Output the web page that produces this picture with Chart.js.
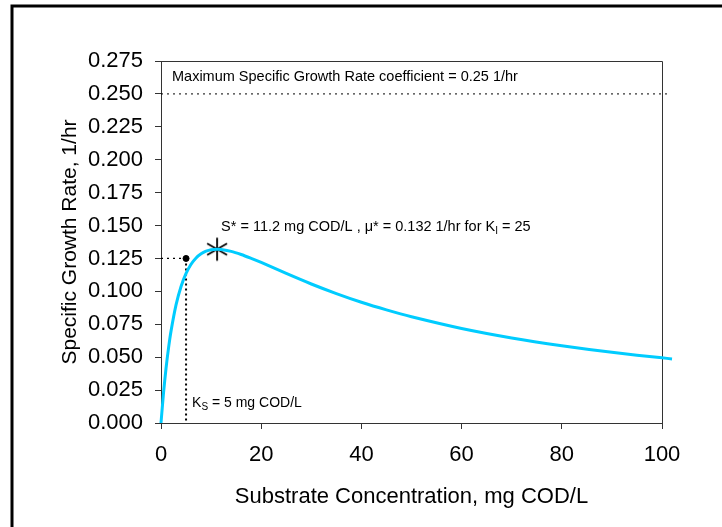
<!DOCTYPE html>
<html>
<head>
<meta charset="utf-8">
<script src="https://cdn.jsdelivr.net/npm/chart.js@4"></script>
<style>
  html, body { margin: 0; padding: 0; background: #fff; }
  canvas { display: block; }
</style>
</head>
<body>
<canvas id="myChart" width="722" height="527"></canvas>
<script>
// Haldane growth curve, read point by point
var substrate  = [0, 0.5, 1, 1.5, 2, 3, 4, 5, 6, 7, 8, 9, 10, 11.2, 12, 14, 16, 18, 20, 25, 30, 35, 40, 45, 50, 60, 70, 80, 90, 100, 102];
var growthRate = [0, 0.0227, 0.0414, 0.0569, 0.0698, 0.0897, 0.1037, 0.1136, 0.1206, 0.1254, 0.1285, 0.1305, 0.1316, 0.1320, 0.1318, 0.1304, 0.1280, 0.1251, 0.1220, 0.1136, 0.1056, 0.0983, 0.0917, 0.0859, 0.0807, 0.0718, 0.0646, 0.0587, 0.0537, 0.0495, 0.0487];

// kinetic constants shown on the plot
var muMax = 0.25;
var ksValue = 5;
var ksRate = 0.125;
var kiValue = 25;
var sStar = 11.2;
var muStar = 0.132;

var xTicks = [0, 20, 40, 60, 80, 100];
var yTicks = [0, 0.025, 0.05, 0.075, 0.1, 0.125, 0.15, 0.175, 0.2, 0.225, 0.25, 0.275];

var FONT = '"Liberation Sans", Arial, sans-serif';

var curve = substrate.map(function (s, i) { return { x: s, y: growthRate[i] }; });

// six-spoke asterisk for the optimum point
function asterisk(r) {
  var c = document.createElement('canvas');
  var size = 2 * Math.ceil(r + 2);
  c.width = size; c.height = size;
  var g = c.getContext('2d');
  var m = size / 2;
  g.strokeStyle = '#000';
  g.lineWidth = 1.8;
  g.beginPath();
  for (var k = 0; k < 3; k++) {
    var a = Math.PI / 2 + k * Math.PI / 3;
    g.moveTo(m + r * Math.cos(a), m - r * Math.sin(a));
    g.lineTo(m - r * Math.cos(a), m + r * Math.sin(a));
  }
  g.stroke();
  return c;
}

// text with subscript parts: [[text, isSub], ...]
function drawParts(ctx, parts, x, y, size) {
  ctx.textBaseline = 'middle';
  ctx.textAlign = 'left';
  parts.forEach(function (p) {
    if (p[1]) {
      ctx.font = Math.round(size * 0.7) + 'px ' + FONT;
      ctx.fillText(p[0], x, y + size * 0.3);
    } else {
      ctx.font = size + 'px ' + FONT;
      ctx.fillText(p[0], x, y);
    }
    x += ctx.measureText(p[0]).width;
  });
}

var decorations = {
  id: 'decorations',
  beforeDraw: function (chart) {
    var ctx = chart.ctx;
    ctx.save();
    ctx.fillStyle = '#fff';
    ctx.fillRect(0, 0, chart.width, chart.height);
    ctx.strokeStyle = '#000';
    ctx.lineWidth = 3;
    ctx.strokeRect(12, 6, chart.width + 40, chart.height + 40);
    ctx.restore();
  },
  beforeDatasetsDraw: function (chart) {
    var a = chart.chartArea, ctx = chart.ctx;
    ctx.save();
    ctx.strokeStyle = '#333';
    ctx.lineWidth = 1;
    ctx.beginPath();
    ctx.moveTo(a.left, a.top + 0.5);
    ctx.lineTo(a.right + 0.5, a.top + 0.5);
    ctx.lineTo(a.right + 0.5, a.bottom);
    ctx.stroke();
    ctx.restore();
  },
  afterDatasetsDraw: function (chart) {
    var xs = chart.scales.x, ys = chart.scales.y, ctx = chart.ctx;
    ctx.save();
    ctx.fillStyle = '#000';
    drawParts(ctx, [['Maximum Specific Growth Rate coefficient = ' + muMax + ' 1/hr', false]],
      xs.getPixelForValue(0) + 11, ys.getPixelForValue(muMax) - 17, 14.5);
    drawParts(ctx, [
      ['S* = ' + sStar + ' mg COD/L , \u03bc* = ' + muStar.toFixed(3) + ' 1/hr for K', false],
      ['I', true],
      [' = ' + kiValue, false]
    ], xs.getPixelForValue(sStar) + 4, ys.getPixelForValue(muStar) - 22, 14.5);
    drawParts(ctx, [['K', false], ['S', true], [' = ' + ksValue + ' mg COD/L', false]],
      xs.getPixelForValue(ksValue) + 6, ys.getPixelForValue(0) - 20, 14);
    ctx.restore();
  }
};

var ctx = document.getElementById('myChart').getContext('2d');
var myChart = new Chart(ctx, {
  type: 'scatter',
  data: {
    datasets: [
      {
        label: 'mu',
        data: curve,
        showLine: true,
        borderColor: 'rgb(0, 204, 255)',
        borderWidth: 3,
        pointRadius: 0,
        tension: 0.3,
        clip: false
      },
      {
        label: 'mu max',
        data: [{ x: 0, y: muMax }, { x: 101, y: muMax }],
        showLine: true,
        borderColor: '#000',
        borderWidth: 1,
        borderDash: [2, 4],
        pointRadius: 0,
        clip: false
      },
      {
        label: 'half rate',
        data: [{ x: 0, y: ksRate }, { x: ksValue, y: ksRate }],
        showLine: true,
        borderColor: '#000',
        borderWidth: 1.3,
        borderDash: [2, 4],
        pointRadius: 0
      },
      {
        label: 'Ks',
        data: [{ x: ksValue, y: ksRate }, { x: ksValue, y: 0 }],
        showLine: true,
        borderColor: '#000',
        borderWidth: 2,
        borderDash: [2, 3],
        pointRadius: 0
      },
      {
        label: 'Ks point',
        data: [{ x: ksValue, y: ksRate }],
        pointRadius: 3,
        pointBackgroundColor: '#000',
        pointBorderColor: '#000'
      },
      {
        label: 'optimum',
        data: [{ x: sStar, y: muStar }],
        pointStyle: asterisk(11.5),
        pointRadius: 12,
        clip: false
      }
    ]
  },
  options: {
    responsive: false,
    animation: false,
    devicePixelRatio: 1,
    layout: { padding: { left: 58, top: 61, right: 60, bottom: 0 } },
    plugins: {
      legend: { display: false },
      tooltip: { enabled: false }
    },
    scales: {
      x: {
        type: 'linear',
        // limits set after the data pass so the tail past 100 is still drawn
        afterDataLimits: function (s) { s.min = 0; s.max = 100; },
        afterBuildTicks: function (s) { s.ticks = xTicks.map(function (v) { return { value: v }; }); },
        afterFit: function (s) { s.height = 104; },
        ticks: { color: '#000', font: { family: FONT, size: 22 }, padding: 13 },
        grid: { drawOnChartArea: false, drawTicks: true, tickLength: 6, color: '#333' },
        border: { color: '#333', width: 1 },
        title: {
          display: true,
          text: 'Substrate Concentration, mg COD/L',
          color: '#000',
          font: { family: FONT, size: 22 },
          padding: { top: 0, bottom: 17 }
        }
      },
      y: {
        type: 'linear',
        min: 0,
        max: 0.275,
        afterBuildTicks: function (s) { s.ticks = yTicks.map(function (v) { return { value: v }; }); },
        afterFit: function (s) { s.width = 103; },
        ticks: {
          color: '#000',
          font: { family: FONT, size: 22 },
          padding: 12,
          callback: function (v) { return Number(v).toFixed(3); }
        },
        grid: { drawOnChartArea: false, drawTicks: true, tickLength: 6, color: '#333' },
        border: { color: '#333', width: 1 },
        title: {
          display: true,
          text: 'Specific Growth Rate, 1/hr',
          color: '#000',
          font: { family: FONT, size: 21 },
          padding: { top: 0, bottom: 0 }
        }
      }
    }
  },
  plugins: [decorations]
});
</script>
</body>
</html>
